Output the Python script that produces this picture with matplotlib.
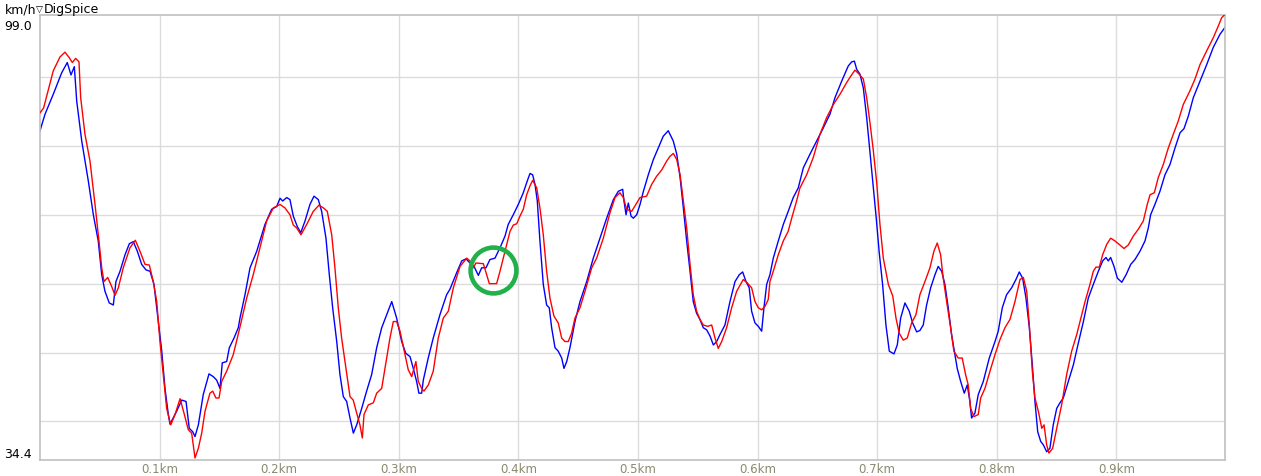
import matplotlib

matplotlib.use("Agg")
import matplotlib.pyplot as plt
from matplotlib.ticker import FixedLocator, FuncFormatter

# distance (m) / speed (km/h)
red_dist = [0, 3, 6, 11.1, 16.7, 20.9, 24.5, 27.0, 29.8, 32.6, 34.0, 37.6, 41.8, 46.0, 49.3,
            51.6, 53.5, 56.6, 59.9, 62.7, 65.5, 69.6, 75.2, 79.7, 83.6, 87.8, 91.4, 94.7, 97.6,
            100.3, 103.1, 105.9, 109.3, 112.9, 117.1, 120.4, 124.0, 126.8, 129.6, 132.4, 135.2,
            138.0, 142.1, 144.4, 147.1, 149.7, 151.9, 156.1, 161.6, 167.2, 172.8, 178.3, 183.9,
            189.5, 195.1, 200.7, 204.8, 209.0, 211.8, 214.6, 218.2, 223.0, 228.5, 233.3, 236.9,
            240.2, 243.9, 246.6, 249.4, 252.2, 255.8, 259.2, 261.9, 264.8, 267.5, 269.5, 270.9,
            274.5, 278.7, 281.5, 285.7, 289.9, 292.6, 295.4, 298.2, 301.0, 305.2, 307.9, 310.8,
            312.7, 314.3, 316.3, 319.1, 321.0, 324.7, 328.8, 333.0, 337.2, 341.4, 345.6, 351.2,
            356.8, 359.5, 362.3, 364.5, 370.7, 373.5, 375.7, 381.8, 384.6, 388.8, 393.0, 395.7,
            398.6, 401.3, 404.1, 406.9, 409.7, 411.9, 415.3, 418.0, 420.8, 423.6, 426.4, 429.7,
            433.3, 436.2, 438.9, 441.7, 444.5, 447.3, 451.5, 455.7, 461.3, 465.4, 471.0, 476.6,
            480.8, 484.9, 487.7, 490.5, 494.7, 497.5, 501.7, 507.2, 511.4, 515.6, 519.8, 524.0,
            526.8, 529.6, 532.4, 535.2, 537.9, 540.7, 543.5, 546.2, 549.0, 551.8, 554.6, 558.2,
            561.6, 564.4, 567.1, 570.0, 574.1, 578.3, 582.5, 588.0, 591.4, 595.0, 597.8, 600.6,
            603.4, 606.2, 608.9, 610.3, 613.1, 617.3, 621.5, 625.6, 628.5, 632.6, 635.4, 641.0,
            646.5, 652.2, 657.7, 663.3, 668.9, 674.5, 677.8, 681.4, 685.0, 688.4, 691.2, 694.0,
            696.7, 699.6, 702.3, 705.1, 709.3, 713.0, 715.7, 718.4, 721.8, 725.1, 728.8, 732.4,
            735.7, 739.9, 744.1, 747.4, 750.2, 753.0, 755.2, 758.5, 761.4, 764.1, 767.7, 771.1,
            773.9, 776.1, 778.1, 780.9, 784.5, 786.5, 790.1, 794.3, 798.5, 802.7, 806.8, 811.0,
            815.2, 819.4, 822.2, 825.0, 827.2, 829.7, 831.9, 834.7, 837.6, 839.5, 841.7, 843.6,
            846.7, 850.1, 854.2, 858.4, 862.6, 866.8, 869.6, 873.8, 877.9, 880.7, 882.9, 885.7,
            888.5, 891.9, 895.2, 898.8, 903.0, 906.3, 909.9, 914.1, 918.3, 922.5, 925.8, 928.1,
            931.7, 935.0, 939.2, 943.4, 947.6, 951.7, 955.9, 961.5, 965.7, 969.9, 975.5, 981.0,
            985.2, 988.0, 990.8]
red_speed = [84.8, 85.5, 87.5, 90.9, 92.9, 93.6, 92.8, 92.1, 92.7, 92.2, 87.0, 81.7, 77.8, 71.5, 66.2,
             62.3, 60.3, 60.9, 59.6, 58.3, 59.4, 62.3, 65.2, 66.3, 64.7, 62.8, 62.7, 60.3, 57.4,
             51.6, 46.8, 41.9, 39.5, 41.0, 43.3, 41.2, 38.8, 38.3, 34.7, 36.1, 38.3,
             41.5, 44.1, 44.4, 43.4, 43.4, 45.8, 47.3, 49.7, 53.7, 57.9, 61.3, 65.2,
             69.1, 71.0, 71.5, 71.0, 70.0, 68.5, 68.1, 67.1, 68.6, 70.5, 71.4, 71.0,
             70.5, 67.1, 62.3, 56.5, 52.1, 47.7, 43.6, 43.1, 41.2, 39.5, 37.6, 41.0,
             42.4, 42.7, 44.1, 44.8, 49.2, 52.1, 54.5, 54.5, 53.1, 49.7, 47.5, 46.5,
             47.7, 48.7, 45.8, 44.8, 44.4, 45.3, 47.3, 52.1, 55.0, 56.0, 59.4, 62.5,
             63.7, 63.3, 62.3, 63.0, 62.9, 61.3, 60.0, 60.0, 61.8, 64.7, 67.6, 68.5,
             68.7, 69.8, 70.8, 72.9, 74.2, 75.0, 73.9, 71.0, 67.1, 61.8, 57.9, 55.3,
             54.3, 52.1, 51.6, 51.6, 52.8, 55.0, 56.5, 58.9, 62.3, 63.7, 66.6, 70.3,
             72.5, 73.2, 72.5, 70.8, 70.5, 71.3, 72.5, 72.7, 74.4, 75.6, 76.5, 77.8,
             78.5, 78.9, 78.0, 75.8, 72.0, 68.1, 62.8, 58.4, 56.0, 54.8, 54.0, 53.8,
             54.0, 52.1, 50.6, 51.6, 53.6, 56.5, 58.9, 60.6, 60.1, 59.4, 57.4, 56.5,
             56.2, 56.7, 57.7, 60.3, 61.8, 64.2, 66.2, 67.6, 69.5, 72.0, 73.9, 75.8,
             78.3, 81.7, 84.1, 86.0, 87.5, 89.2, 90.1, 91.0, 90.4, 89.7, 87.0, 83.3,
             79.4, 74.6, 68.6, 63.7, 59.9, 58.2, 55.0, 52.8, 51.8, 52.1, 54.3, 55.5,
             58.4, 60.3, 62.3, 64.7, 65.9, 64.2, 60.8, 56.9, 53.6, 50.2, 49.2, 49.2,
             46.8, 45.3, 41.9, 40.7, 41.0, 43.4, 44.8, 47.3, 49.7, 51.9, 53.6, 54.8,
             57.4, 60.6, 60.9, 58.9, 54.0, 47.3, 43.4, 41.5, 39.0, 39.5, 36.6, 35.4,
             36.1, 39.0, 42.4, 46.8, 50.2, 52.6, 54.5, 57.4, 59.9, 61.8, 62.4, 62.4,
             64.2, 65.7, 66.6, 66.2, 65.6, 65.1, 65.6, 66.9, 67.9, 69.1, 71.5, 72.9,
             73.2, 75.4, 77.3, 79.7, 81.7, 83.6, 86.0, 88.0, 89.7, 91.8, 93.8, 95.7,
             97.4, 98.6, 99.1]

blue_dist = [0, 4.2, 11.1, 18.1, 22.8, 25.9, 28.7, 30.7, 34.9, 40.4, 44.6, 48.7, 51.6, 54.3, 57.9,
             61.3, 63.5, 66.9, 71.1, 74.7, 78.0, 81.4, 85.0, 88.6, 92.0, 95.3, 98.9, 101.8, 104.5,
             107.3, 108.7, 114.3, 118.5, 122.1, 124.8, 127.7, 129.6, 132.4, 136.5, 141.3, 144.9,
             147.7, 150.5, 152.4, 156.1, 158.3, 162.2, 165.8, 167.2, 171.4, 175.6, 181.2, 188.1,
             193.7, 197.9, 200.7, 202.9, 206.3, 209.0, 211.8, 215.1, 218.0, 221.6, 225.7, 229.1,
             232.7, 235.5, 239.1, 241.9, 244.7, 248.1, 250.8, 253.6, 256.4, 259.2, 262.0, 264.8,
             269.0, 273.1, 277.3, 281.5, 285.7, 289.9, 294.1, 298.2, 302.4, 305.8, 309.4, 312.1,
             314.9, 316.8, 319.1, 320.5, 324.6, 328.8, 334.4, 340.0, 342.8, 348.4, 352.6, 356.2,
             359.5, 362.9, 366.5, 369.3, 372.9, 376.2, 380.4, 384.6, 388.8, 391.5, 395.7, 399.9,
             404.1, 407.4, 409.7, 411.9, 413.9, 415.8, 418.0, 420.8, 423.6, 425.8, 427.8, 430.6,
             433.3, 436.2, 438.1, 440.4, 443.1, 447.3, 451.5, 457.1, 462.6, 468.2, 473.8, 479.4,
             483.5, 487.2, 488.3, 490.0, 491.9, 494.2, 496.1, 498.9, 501.7, 504.5, 508.6, 512.8,
             517.0, 521.1, 525.3, 529.5, 532.4, 535.2, 537.9, 540.7, 543.5, 546.2, 549.0, 551.8,
             554.6, 557.4, 560.2, 563.0, 565.8, 568.5, 572.7, 576.9, 581.1, 584.7, 587.5, 590.3,
             593.0, 595.0, 597.8, 600.6, 603.4, 605.3, 607.6, 610.3, 613.1, 617.3, 621.5, 625.6,
             629.8, 634.0, 638.2, 643.8, 649.4, 654.9, 660.5, 664.7, 670.3, 675.8, 678.7, 680.9,
             682.9, 685.6, 688.4, 691.2, 694.0, 696.7, 699.2, 701.7, 704.5, 707.3, 710.1, 714.0,
             716.8, 719.6, 723.2, 726.8, 729.6, 733.0, 735.7, 738.5, 741.3, 744.7, 748.3, 751.0,
             753.9, 756.6, 759.4, 762.2, 765.0, 766.9, 769.8, 772.8, 775.3, 777.5, 778.9, 781.7,
             784.5, 788.7, 793.7, 798.5, 801.2, 804.6, 808.2, 812.4, 816.0, 818.8, 821.6, 824.4,
             827.2, 829.7, 831.9, 834.2, 836.7, 838.9, 841.7, 844.4, 847.2, 850.1, 852.8, 855.6,
             859.8, 864.0, 868.2, 872.4, 876.5, 880.7, 884.9, 888.5, 891.3, 893.2, 895.2, 898.0,
             900.8, 904.5, 908.1, 912.0, 915.5, 919.7, 923.9, 926.7, 928.6, 932.2, 936.4, 940.6,
             944.8, 949.0, 953.2, 956.5, 960.1, 964.3, 969.9, 975.5, 981.0, 986.6, 990.8]
blue_speed = [82.2, 84.6, 87.5, 90.6, 92.1, 90.3, 91.5, 86.5, 80.7, 74.9, 70.0, 66.2, 61.3, 58.9, 57.2,
              56.9, 60.3, 61.8, 64.2, 65.8, 66.1, 64.7, 62.8, 62.0, 61.8, 59.9, 54.5, 50.2, 44.8,
              41.0, 39.6, 41.5, 43.1, 42.9, 39.0, 38.5, 37.8, 39.5, 43.9, 46.9, 46.5,
              46.0, 44.8, 48.5, 48.7, 50.7, 52.1, 53.6, 55.0, 58.4, 62.3, 64.7, 68.6,
              70.8, 71.2, 72.4, 72.0, 72.5, 72.2, 69.8, 68.3, 67.4, 69.1, 71.5, 72.7,
              72.2, 70.5, 66.6, 61.3, 56.5, 51.6, 46.8, 43.6, 42.9, 40.5, 38.3, 39.5,
              41.9, 44.4, 46.8, 50.7, 53.6, 55.5, 57.4, 55.0, 51.6, 49.9, 49.4, 47.7,
              45.8, 44.1, 44.1, 46.0, 49.2, 52.1, 55.5, 58.4, 59.2, 61.6, 63.3, 63.6,
              63.0, 62.5, 61.2, 62.3, 62.3, 63.5, 63.7, 65.2, 66.9, 68.6, 70.0, 71.5,
              73.2, 74.9, 76.0, 75.8, 74.4, 72.0, 66.2, 59.9, 56.9, 56.5, 53.6, 50.7,
              50.2, 49.2, 47.7, 48.7, 50.7, 54.5, 57.4, 60.3, 63.7, 66.6, 69.5, 72.2,
              73.4, 73.7, 72.0, 70.0, 71.7, 69.8, 69.5, 70.0, 71.5, 73.4, 75.8, 78.0,
              79.7, 81.4, 82.2, 80.7, 78.8, 75.4, 71.0, 66.2, 61.8, 57.4, 55.7, 54.8,
              53.6, 53.3, 52.4, 51.1, 51.6, 52.6, 54.0, 57.4, 60.3, 61.3, 61.7, 60.3,
              59.4, 56.0, 54.3, 53.8, 53.1, 56.5, 59.9, 61.3, 63.7, 66.2, 68.6, 70.5,
              72.5, 73.9, 76.8, 78.8, 80.7, 82.6, 84.6, 87.0, 89.4, 91.6, 92.2, 92.3,
              91.1, 90.4, 88.4, 84.1, 79.0, 74.2, 69.5, 64.5, 59.9, 54.0, 50.2, 49.8,
              51.1, 55.0, 57.2, 56.0, 54.3, 53.0, 53.2, 54.0, 56.9, 59.4, 61.3, 62.5,
              61.8, 59.9, 56.5, 52.6, 49.7, 47.7, 45.8, 44.1, 45.3, 42.9, 40.5, 41.2,
              43.9, 45.8, 49.2, 51.6, 53.1, 56.5, 58.4, 59.4, 60.6, 61.7, 60.8, 57.9,
              53.6, 48.2, 42.9, 38.5, 37.1, 36.6, 35.6, 36.1, 39.5, 41.9, 42.7, 43.4,
              45.8, 48.2, 51.4, 54.5, 57.9, 59.9, 61.8, 63.3, 63.8, 63.3, 63.8, 62.5,
              60.8, 60.2, 61.3, 62.8, 63.5, 64.7, 66.2, 68.1, 70.0, 71.5, 73.4, 75.8,
              77.3, 79.7, 81.9, 82.5, 84.3, 87.0, 89.4, 91.8, 94.3, 96.2, 97.2]

y_min, y_max = 34.4, 99.0
x_max = 990.8
x_ticks = [100, 200, 300, 400, 500, 600, 700, 800, 900]
y_grid = [40, 50, 60, 70, 80, 90]
highlight = (378.7, 62.0)  # marked spot on the trace

fig = plt.figure(figsize=(12.61, 4.77), dpi=100)
ax = fig.add_axes([40 / 1261, 1 - 461 / 477, 1185 / 1261, 445 / 477])

ax.plot(red_dist, red_speed, color="#ff0000", lw=1.0, zorder=3)
ax.plot(blue_dist, blue_speed, color="#0000ff", lw=1.0, zorder=2)
ax.plot(*highlight, marker="o", ms=33, mfc="none", mec="#22b04b", mew=3.3, zorder=4)

ax.set_xlim(0, x_max)
ax.set_ylim(y_min, y_max)
ax.xaxis.set_major_locator(FixedLocator(x_ticks))
ax.xaxis.set_major_formatter(FuncFormatter(lambda v, _: f"{v / 1000:.1f}km"))
ax.yaxis.set_major_locator(FixedLocator(y_grid))
ax.set_yticklabels([])
ax.tick_params(axis="y", length=0)
ax.tick_params(axis="x", length=0, pad=1.5, labelsize=8.5, labelcolor="#8a8a70")
ax.grid(True, color="#dcdcdc", lw=1.0)
for side in ax.spines.values():
    side.set_color("#c0c0c0")
    side.set_linewidth(1.2)

# y range labels sit just inside the axis ends
ax.text(-0.007, 98.4, f"{y_max:.1f}", transform=ax.get_yaxis_transform(),
        ha="right", va="top", fontsize=9, color="black")
ax.text(-0.007, y_min, f"{y_min:.1f}", transform=ax.get_yaxis_transform(),
        ha="right", va="bottom", fontsize=9, color="black")
fig.text(5 / 1261, 1 - 10 / 477, "km/h", ha="left", va="center", fontsize=9)
fig.text(36 / 1261, 1 - 10 / 477, "\u25bd", ha="left", va="center", fontsize=6.5)
fig.text(44 / 1261, 1 - 10 / 477, "DigSpice", ha="left", va="center", fontsize=9)

fig.savefig("out.png", dpi=100)
